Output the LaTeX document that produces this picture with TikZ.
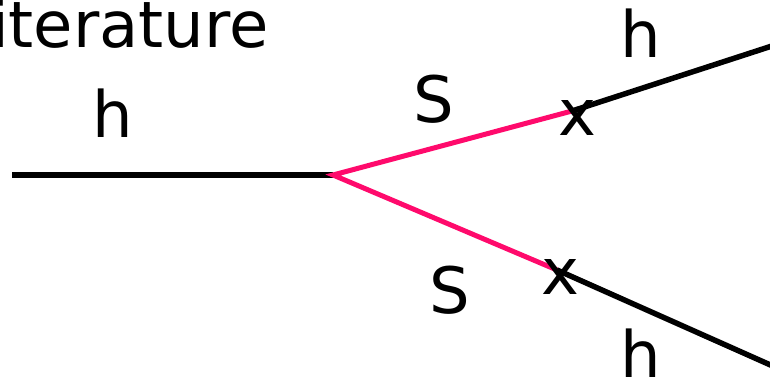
\documentclass[tikz,border=0pt]{standalone}
\usepackage{fontspec}
\setmainfont{DejaVu Sans}
\definecolor{spink}{HTML}{FF0A6C}
\begin{document}
\begin{tikzpicture}[x=1pt,y=-1pt,
  lbl/.style={inner sep=0pt,anchor=base,font=\fontsize{64}{64}\selectfont},
  ttl/.style={inner sep=0pt,anchor=base east,font=\fontsize{64}{64}\selectfont},
  hline/.style={line width=5.5pt,black},
  sline/.style={line width=5pt,spink}]
\useasboundingbox (0,0) rectangle (770,378);
\clip (0,0) rectangle (770,378);
\node[ttl] (title) at (269,47) {iterature};
\coordinate (a) at (12,175);
\coordinate (v) at (333,175);
\coordinate (p1) at (572,111);
\coordinate (p2) at (557,270);
\coordinate (e1) at (775,45);
\coordinate (e2) at (775,367);
\draw[hline] (a) -- (v);
\draw[sline,miter limit=10] (p1) -- (v) -- (p2);
\draw[hline] (p1) -- (e1);
\draw[hline] (p2) -- (e2);
\node[lbl] (h0) at (113,137) {h};
\node[lbl] (s1) at (434,122) {S};
\node[lbl] (s2) at (450,313) {S};
\node[lbl] (x1) at (577,135) {x};
\node[lbl] (x2) at (560,294) {x};
\node[lbl] (h1) at (641,57) {h};
\node[lbl] (h2) at (641,377) {h};
\end{tikzpicture}
\end{document}
